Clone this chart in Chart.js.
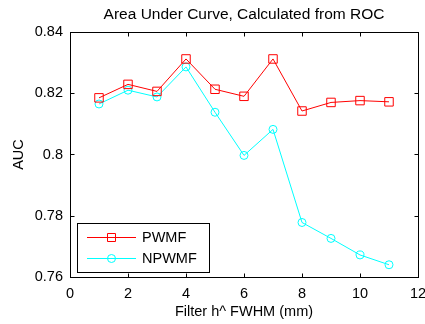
<!DOCTYPE html>
<html>
<head>
<meta charset="utf-8">
<script src="https://cdn.jsdelivr.net/npm/chart.js@4/dist/chart.umd.min.js"></script>
<style>
html,body{margin:0;padding:0;background:#fff;overflow:hidden;}
#wrap{width:425px;height:324px;position:relative;}
</style>
</head>
<body>
<div id="wrap"><canvas id="c"></canvas></div>
<script>
const filterFWHM = [1, 2, 3, 4, 5, 6, 7, 8, 9, 10, 11];
const pwmfAUC  = [0.8185, 0.8229, 0.8206, 0.8312, 0.8213, 0.8190, 0.8312, 0.8142, 0.8170, 0.8176, 0.8172];
const npwmfAUC = [0.8165, 0.8210, 0.8188, 0.8286, 0.8138, 0.7997, 0.8082, 0.7778, 0.7726, 0.7672, 0.7640];
const xTickValues = [0, 2, 4, 6, 8, 10, 12];
const yTickLabels = ['0.76', '0.78', '0.8', '0.82', '0.84'];
const titleText = 'Area Under Curve, Calculated from ROC';
const xLabel = 'Filter h^ FWHM (mm)';
const yLabel = 'AUC';
const seriesNames = ['PWMF', 'NPWMF'];

const FONT = '"Liberation Sans", Arial, sans-serif';

const framePlugin = {
  id: 'frame',
  afterDraw(chart) {
    const ctx = chart.ctx;
    const a = chart.chartArea;
    const L = Math.round(a.left) + 0.5, R = Math.round(a.right) + 0.5;
    const T = Math.round(a.top) + 0.5, B = Math.round(a.bottom) + 0.5;
    ctx.save();
    ctx.strokeStyle = '#000';
    ctx.lineWidth = 1;
    ctx.strokeRect(L, T, R - L, B - T);
    const tl = 4;
    const xs = chart.scales.x, ys = chart.scales.y;
    ctx.beginPath();
    xs.ticks.forEach(t => {
      const p = Math.round(xs.getPixelForValue(t.value)) + 0.5;
      ctx.moveTo(p, B); ctx.lineTo(p, B - tl);
      ctx.moveTo(p, T); ctx.lineTo(p, T + tl);
    });
    ys.ticks.forEach(t => {
      const p = Math.round(ys.getPixelForValue(t.value)) + 0.5;
      ctx.moveTo(L, p); ctx.lineTo(L + tl, p);
      ctx.moveTo(R, p); ctx.lineTo(R - tl, p);
    });
    ctx.stroke();

    // title centred over axes
    ctx.fillStyle = '#000';
    ctx.font = '15.5px ' + FONT;
    ctx.textAlign = 'center';
    ctx.textBaseline = 'middle';
    ctx.fillText(titleText, (a.left + a.right) / 2, 15);

    // legend
    const lx = 77.5, ly = 223.5, lw = 132, lh = 49;
    ctx.fillStyle = '#fff';
    ctx.fillRect(lx, ly, lw, lh);
    ctx.strokeStyle = '#000';
    ctx.strokeRect(lx, ly, lw, lh);
    const rows = [237, 258];
    chart.data.datasets.forEach((ds, i) => {
      const y = rows[i];
      ctx.strokeStyle = ds.borderColor;
      ctx.lineWidth = 1;
      ctx.beginPath();
      ctx.moveTo(87, y + 0.5); ctx.lineTo(136, y + 0.5);
      ctx.stroke();
      ctx.beginPath();
      if (ds.pointStyle === 'rect') {
        ctx.rect(107.5, y - 3.5, 8, 8);
      } else {
        ctx.arc(111.5, y + 0.5, 4, 0, Math.PI * 2);
      }
      ctx.stroke();
      ctx.fillStyle = '#000';
      ctx.font = '14.5px ' + FONT;
      ctx.textAlign = 'left';
      ctx.textBaseline = 'middle';
      ctx.fillText(ds.label, 142, y + 1);
    });
    ctx.restore();
  }
};

new Chart(document.getElementById('c'), {
  type: 'line',
  data: {
    datasets: [
      {
        label: seriesNames[0],
        data: filterFWHM.map((x, i) => ({x, y: pwmfAUC[i]})),
        borderColor: '#ff0000',
        backgroundColor: 'rgba(0,0,0,0)',
        borderWidth: 1,
        pointStyle: 'rect',
        pointRadius: 6,
        pointBorderWidth: 1,
        pointBorderColor: '#ff0000',
        pointBackgroundColor: 'rgba(0,0,0,0)',
        tension: 0
      },
      {
        label: seriesNames[1],
        data: filterFWHM.map((x, i) => ({x, y: npwmfAUC[i]})),
        borderColor: '#00ffff',
        backgroundColor: 'rgba(0,0,0,0)',
        borderWidth: 1,
        pointStyle: 'circle',
        pointRadius: 4,
        pointBorderWidth: 1,
        pointBorderColor: '#00ffff',
        pointBackgroundColor: 'rgba(0,0,0,0)',
        tension: 0
      }
    ]
  },
  options: {
    responsive: true,
    maintainAspectRatio: false,
    animation: false,
    devicePixelRatio: 1,
    layout: { padding: { top: 32, right: 7, bottom: 0, left: 0 } },
    plugins: {
      legend: { display: false },
      title: { display: false },
      tooltip: { enabled: false }
    },
    scales: {
      x: {
        type: 'linear',
        min: 0, max: 12,
        afterBuildTicks: s => { s.ticks = xTickValues.map(v => ({value: v})); },
        ticks: {
          color: '#000',
          font: { family: FONT, size: 14.5 },
          padding: 8,
          maxRotation: 0,
          autoSkip: false,
          callback: v => String(v)
        },
        grid: { display: false, drawTicks: false },
        border: { display: false },
        title: {
          display: true, text: xLabel, color: '#000',
          font: { family: FONT, size: 14.5 },
          padding: { top: 0, bottom: 3 }
        },
        afterFit: s => { s.height = 47; s.paddingLeft = 0; s.paddingRight = 0; }
      },
      y: {
        type: 'linear',
        min: 0.76, max: 0.84,
        afterBuildTicks: s => { s.ticks = yTickLabels.map(v => ({value: parseFloat(v)})); },
        ticks: {
          color: '#000',
          font: { family: FONT, size: 14.5 },
          padding: 7,
          autoSkip: false,
          callback: (v, i) => yTickLabels[i]
        },
        grid: { display: false, drawTicks: false },
        border: { display: false },
        title: {
          display: true, text: yLabel, color: '#000',
          font: { family: FONT, size: 14.5 },
          padding: { top: 10, bottom: 0 }
        },
        afterFit: s => { s.width = 70; s.paddingTop = 0; s.paddingBottom = 0; }
      }
    }
  },
  plugins: [framePlugin]
});
</script>
</body>
</html>
